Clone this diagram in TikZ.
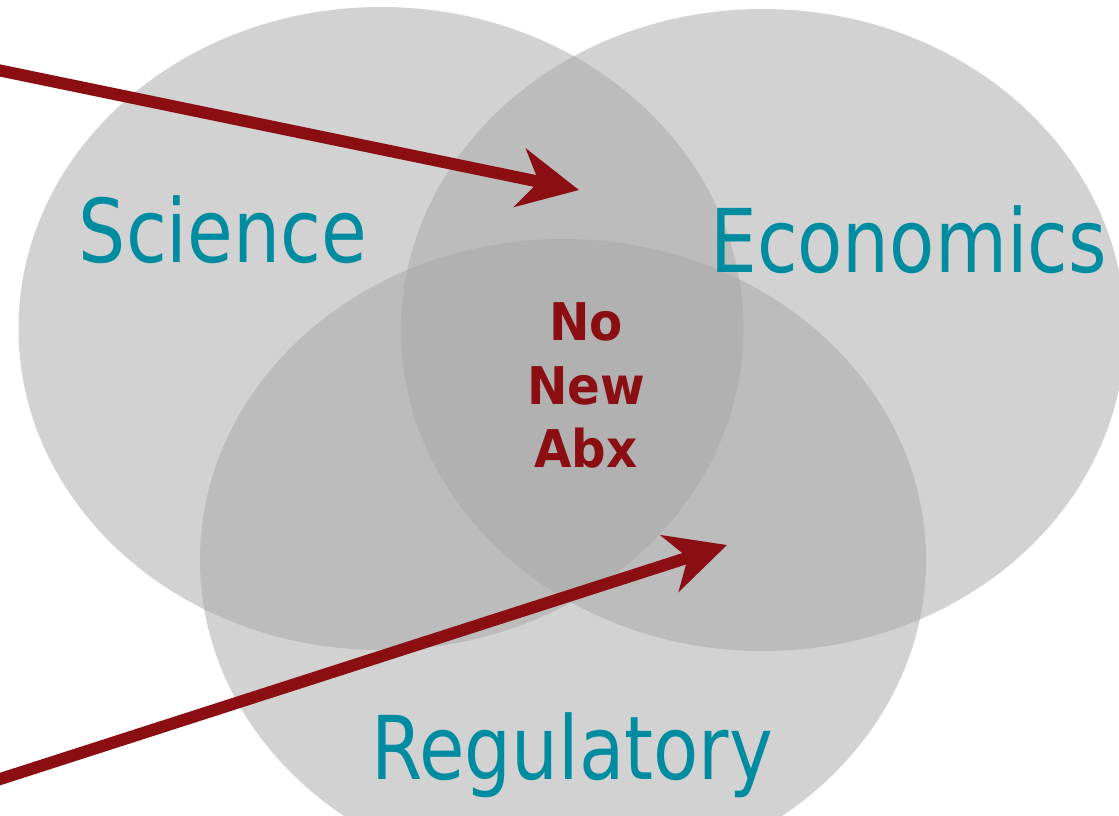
\documentclass[tikz,border=0pt]{standalone}
\usepackage{fontspec}
\usetikzlibrary{arrows.meta}
\newfontfamily\labelfont{DejaVu Sans}
\definecolor{venngray}{RGB}{167,167,167}
\definecolor{labelteal}{RGB}{0,140,160}
\definecolor{abxred}{RGB}{139,14,18}
% narrow a word horizontally
\newcommand\narrowed[2]{\scalebox{#1}[1]{#2}}
\begin{document}
\begin{tikzpicture}[x=1pt,y=-1pt,
  venn/.style={fill=venngray,fill opacity=0.51},
  arealabel/.style={inner sep=0pt,anchor=base,text=labelteal,
    font=\labelfont\fontsize{88}{100}\selectfont},
  centrelabel/.style={inner sep=0pt,align=center,text=abxred,
    font=\labelfont\bfseries\fontsize{52}{63.5}\selectfont},
  pointer/.style={draw=abxred,line width=12pt,
    -{Stealth[length=60pt,width=59pt,inset=19pt]}}]
\useasboundingbox (0,0) rectangle (1119,815);
\clip (0,0) rectangle (1119,815);
\fill[white] (0,0) rectangle (1119,815);

% the three overlapping fields
\path[venn] (381,328.5) ellipse [x radius=362.5pt, y radius=321.5pt];
\path[venn] (763,330) ellipse [x radius=362pt, y radius=321pt];
\path[venn] (563,560) ellipse [x radius=363pt, y radius=321pt];

% field names
\node[arealabel] (science) at (223,262) {\narrowed{0.845}{Science}};
\node[arealabel] (economics) at (908.5,272) {\narrowed{0.84}{Economics}};
\node[arealabel] (regulatory) at (572,779) {\narrowed{0.84}{Regulatory}};

% the common core
\node[centrelabel] (core) at (586,385.5)
  {\narrowed{0.93}{No}\\\narrowed{0.93}{New}\\\narrowed{0.93}{Abx}};

% pointers into the overlaps
\coordinate (upperstart) at (-30,64.3);
\coordinate (uppertip) at (579,190);
\coordinate (lowerstart) at (-30,788.7);
\coordinate (lowertip) at (727,545);
\draw[pointer] (upperstart) -- (uppertip);
\draw[pointer] (lowerstart) -- (lowertip);
\end{tikzpicture}
\end{document}
